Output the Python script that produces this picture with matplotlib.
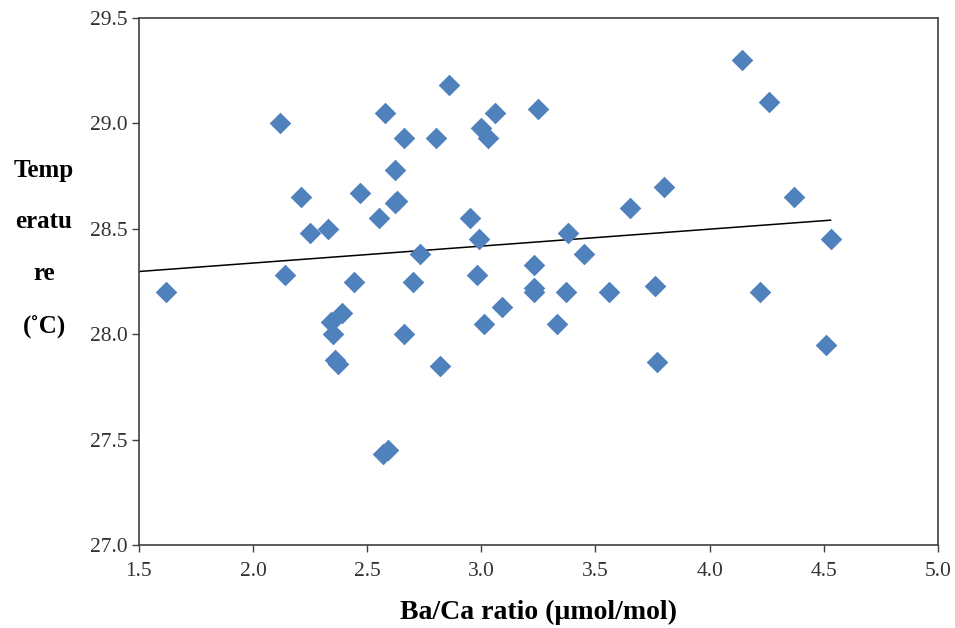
import numpy as np
import matplotlib.pyplot as plt

# Ba/Ca ratio (umol/mol) vs temperature (C)
ba_ca = [1.62, 2.12, 2.14, 2.21, 2.25, 2.33, 2.34, 2.35, 2.39, 2.36,
         2.37, 2.44, 2.47, 2.55, 2.58, 2.62, 2.62, 2.63, 2.66, 2.66,
         2.70, 2.73, 2.57, 2.59, 2.80, 2.82, 2.86, 2.95, 2.99, 2.98,
         3.00, 3.03, 3.01, 3.06, 3.09, 3.25, 3.23, 3.23, 3.23, 3.33,
         3.37, 3.38, 3.45, 3.56, 3.65, 3.76, 3.77, 3.80, 4.14, 4.22,
         4.26, 4.37, 4.51, 4.53]
temp = [28.20, 29.00, 28.28, 28.65, 28.48, 28.50, 28.06, 28.00, 28.10, 27.88,
        27.86, 28.25, 28.67, 28.55, 29.05, 28.78, 28.62, 28.63, 28.93, 28.00,
        28.25, 28.38, 27.43, 27.45, 28.93, 27.85, 29.18, 28.55, 28.45, 28.28,
        28.98, 28.93, 28.05, 29.05, 28.13, 29.07, 28.33, 28.22, 28.20, 28.05,
        28.20, 28.48, 28.38, 28.20, 28.60, 28.23, 27.87, 28.70, 29.30, 28.20,
        29.10, 28.65, 27.95, 28.45]

x_ticks = [1.5, 2.0, 2.5, 3.0, 3.5, 4.0, 4.5, 5.0]
y_ticks = [27.0, 27.5, 28.0, 28.5, 29.0, 29.5]
ylabel_lines = ['Temp', 'eratu', 're', '(˚C)']

plt.rcParams['font.family'] = ['Liberation Serif', 'DejaVu Serif']

fig = plt.figure(figsize=(9.55, 6.28), dpi=100)
ax = fig.add_axes([0.1455, 0.132, 0.8365, 0.8395])

ax.scatter(ba_ca, temp, marker='D', s=11 ** 2, color='#4F81BD', linewidths=0, zorder=3)

# linear trendline, drawn from the axis start to the last point
slope, intercept = np.polyfit(ba_ca, temp, 1)
xs = np.array([x_ticks[0], max(ba_ca)])
ax.plot(xs, slope * xs + intercept, color='black', lw=1.1, zorder=2)

ax.set_xlim(x_ticks[0], x_ticks[-1])
ax.set_ylim(y_ticks[0], y_ticks[-1])
ax.set_xticks(x_ticks)
ax.set_yticks(y_ticks)
ax.set_xticklabels([f'{t:.1f}' for t in x_ticks])
ax.set_yticklabels([f'{t:.1f}' for t in y_ticks])
ax.tick_params(direction='out', length=5, width=1, colors='#404040',
               labelsize=15.5, labelcolor='#333333')
ax.tick_params(axis='x', pad=7)
ax.tick_params(axis='y', pad=3)
for sp in ax.spines.values():
    sp.set_color('#404040')
    sp.set_linewidth(1.2)

ax.set_xlabel('Ba/Ca ratio (µmol/mol)', fontsize=20, fontweight='bold', labelpad=14)

for i, line in enumerate(ylabel_lines):
    fig.text(44 / 955, 1 - (170 + i * 52) / 628, line, fontsize=18,
             fontweight='bold', ha='center', va='center')

plt.savefig('out.png', dpi=100)
